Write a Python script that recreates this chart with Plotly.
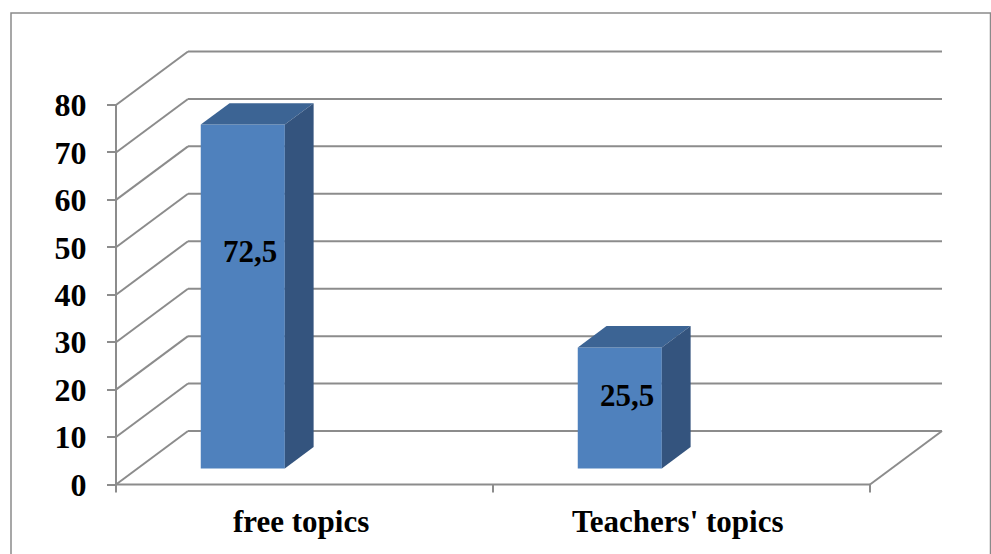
import plotly.graph_objects as go

# ---- data -------------------------------------------------------------
categories = ["free topics", "Teachers' topics"]
values = [72.5, 25.5]
y_ticks = [0, 10, 20, 30, 40, 50, 60, 70, 80]

# ---- canvas / axis geometry (pixels) -----------------------------------
W, H = 991, 554
ML, MR, MT, MB = 60, 31, 40, 49
PLOT_W, PLOT_H = W - ML - MR, H - MT - MB
X0_PX = 116            # where the front value axis stands
PX_PER_CAT = 377       # width of one category on the floor front edge
Y0_PX = 484.5          # pixel row of value 0 on the front plane
PX_PER_VAL = 379.5 / 80

x_range = [(ML - X0_PX) / PX_PER_CAT, (ML + PLOT_W - X0_PX) / PX_PER_CAT]
y_range = [(Y0_PX - (MT + PLOT_H)) / PX_PER_VAL, (Y0_PX - MT) / PX_PER_VAL]

# oblique depth vector of the 3-D box (axis units)
DX = 72 / PX_PER_CAT
DY = 53.5 / PX_PER_VAL
N = len(categories)

# bar footprint
BAR_W = 0.223
BAR_OFF = 0.279        # bar centre measured from category start
D_FRONT, D_BACK = 0.3, 0.7

FRONT = "#4F81BD"
TOP = "#3C6494"
SIDE = "#34547E"
GRID = "#8C8C8C"
FONT = "Liberation Serif"


def px_to_paper_x(px):
    return (px - ML) / PLOT_W


def px_to_paper_y(py):
    return (MT + PLOT_H - py) / PLOT_H


fig = go.Figure()
shapes = []


def seg(x0, y0, x1, y1, w=2):
    shapes.append(dict(type="line", xref="x", yref="y", x0=x0, y0=y0, x1=x1, y1=y1,
                       line=dict(color=GRID, width=w), layer="below"))


# walls: left-wall diagonals and back-wall gridlines
for v in y_ticks:
    seg(0, v, DX, v + DY)
    seg(DX, v + DY, N + DX, v + DY)
# floor front and right edges
seg(0, 0, N, 0)
seg(N, 0, N + DX, DY)
# front value axis line
seg(0, 0, 0, max(y_ticks))
# category tick marks below the floor front edge
for i in range(N + 1):
    seg(i, 0, i, -8 / PX_PER_VAL)

# bars: front face through go.Bar, top and side faces as filled polygons
for i, (cat, v) in enumerate(zip(categories, values)):
    xc = i + BAR_OFF
    xl, xr = xc - BAR_W / 2, xc + BAR_W / 2
    fx, fy = D_FRONT * DX, D_FRONT * DY
    bx, by = D_BACK * DX, D_BACK * DY
    fig.add_trace(go.Bar(x=[xc + fx], y=[v], base=[fy], width=[BAR_W],
                         marker=dict(color=FRONT, line=dict(width=0)),
                         hoverinfo="skip", showlegend=False))
    fig.add_trace(go.Scatter(
        x=[xl + fx, xr + fx, xr + bx, xl + bx, xl + fx],
        y=[fy + v, fy + v, by + v, by + v, fy + v],
        fill="toself", fillcolor=TOP, mode="lines", line=dict(width=0, color=TOP),
        hoverinfo="skip", showlegend=False))
    fig.add_trace(go.Scatter(
        x=[xr + fx, xr + bx, xr + bx, xr + fx, xr + fx],
        y=[fy, by, by + v, fy + v, fy],
        fill="toself", fillcolor=SIDE, mode="lines", line=dict(width=0, color=SIDE),
        hoverinfo="skip", showlegend=False))

annotations = []
# value labels, placed about two thirds up each bar
for i, v in enumerate(values):
    xc = i + BAR_OFF + 0.4 * DX
    annotations.append(dict(x=xc, y=2.2 + 0.647 * v, xref="x", yref="y",
                            text=f"{v:.1f}".replace(".", ","), showarrow=False,
                            xanchor="center", yanchor="middle",
                            font=dict(family=FONT, size=31, color="black", weight="bold")))
# category labels under the floor
for i, cat in enumerate(categories):
    annotations.append(dict(x=i + 0.49, y=px_to_paper_y(521), xref="x", yref="paper",
                            text=cat, showarrow=False, xanchor="center", yanchor="middle",
                            font=dict(family=FONT, size=31, color="black", weight="bold")))

# outer chart border
shapes.append(dict(type="rect", xref="paper", yref="paper",
                   x0=px_to_paper_x(11), x1=px_to_paper_x(990.5),
                   y0=px_to_paper_y(580), y1=px_to_paper_y(13),
                   line=dict(color="#8A8A8A", width=1.5), fillcolor="rgba(0,0,0,0)"))

fig.update_layout(
    width=W, height=H,
    margin=dict(l=ML, r=MR, t=MT, b=MB),
    paper_bgcolor="white", plot_bgcolor="white",
    showlegend=False,
    barmode="overlay",
    shapes=shapes,
    annotations=annotations,
    xaxis=dict(range=x_range, showgrid=False, zeroline=False, showline=False,
               showticklabels=False, ticks=""),
    yaxis=dict(range=y_range, anchor="free", position=px_to_paper_x(X0_PX),
               showgrid=False, zeroline=False, showline=False,
               tickmode="array", tickvals=y_ticks, ticktext=[str(t) for t in y_ticks],
               ticks="outside", ticklen=9, tickwidth=2, tickcolor=GRID,
               ticklabelstandoff=14,
               tickfont=dict(family=FONT, size=32, color="black", weight="bold")),
)

fig.write_html("out.html")
